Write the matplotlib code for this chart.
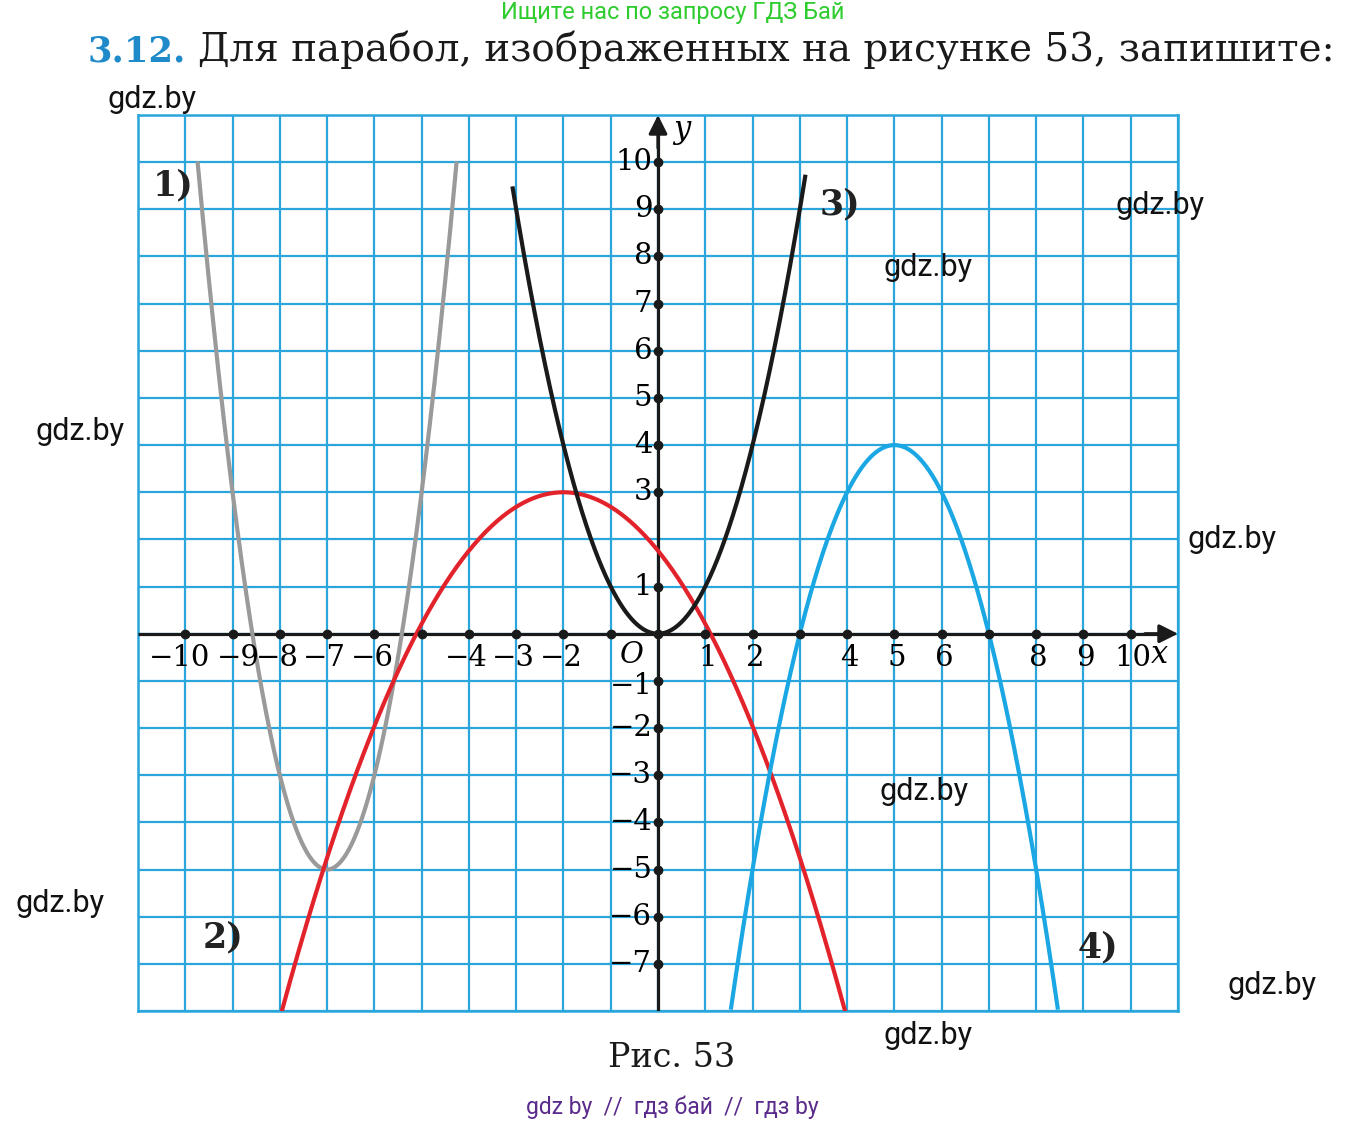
import numpy as np
import matplotlib
matplotlib.use("Agg")
import matplotlib.pyplot as plt

# ---------------- data ----------------
# parabolas y = a*(x - h)^2 + k
curve_names = ["1)", "2)", "3)", "4)"]
curve_a = [2.0, -0.31, 1.0, -1.0]
curve_h = [-7.0, -2.0, 0.0, 5.0]
curve_k = [-5.0, 3.0, 0.0, 4.0]
curve_xmin = [-9.74, -7.96, -3.08, 1.54]
curve_xmax = [-4.26, 3.96, 3.12, 8.46]
curve_colors = ["#9a9a9a", "#e3232b", "#1a1a1a", "#1aa7e4"]
label_pos = [(-10.25, 9.5), (-9.2, -6.45), (3.85, 9.1), (9.3, -6.65)]

x_tick_vals = [-10, -9, -8, -7, -6, -4, -3, -2, 1, 2, 4, 5, 6, 8, 9, 10]
y_tick_vals = [10, 9, 8, 7, 6, 5, 4, 3, 1, -1, -2, -3, -4, -5, -6, -7]
x_dot_vals = [v for v in range(-10, 11) if v != 0]
y_dot_vals = [v for v in range(-7, 11) if v not in (0, 2)]

watermarks = [(152, 100), (1160, 205), (928, 268), (80, 432), (1232, 540),
              (924, 792), (60, 904), (1272, 985), (928, 1036)]

W, H = 1349, 1124
fig = plt.figure(figsize=(W / 100, H / 100), dpi=100)

# axes placement (pixel box of the grid)
L, R, T, B = 138, 1178, 115, 1011
ax = fig.add_axes([L / W, 1 - B / H, (R - L) / W, (B - T) / H])
ax.set_xlim(-11, 11)
ax.set_ylim(-8, 11)

grid_c = "#2aa6dc"
for v in range(-11, 12):
    ax.axvline(v, color=grid_c, lw=1.6, zorder=1)
for v in range(-8, 12):
    ax.axhline(v, color=grid_c, lw=1.6, zorder=1)
for s in ax.spines.values():
    s.set_color(grid_c)
    s.set_linewidth(1.8)
ax.set_xticks([])
ax.set_yticks([])

# coordinate axes
ax.plot([-11, 10.6], [0, 0], color="#1a1a1a", lw=2.3, zorder=3, solid_capstyle="butt")
ax.plot([0, 0], [-8, 10.6], color="#1a1a1a", lw=2.3, zorder=3, solid_capstyle="butt")
ax.annotate("", xy=(11, 0), xytext=(10.3, 0),
            arrowprops=dict(arrowstyle="-|>", color="#1a1a1a", lw=2.3,
                            mutation_scale=28, shrinkA=0, shrinkB=0), zorder=4)
ax.annotate("", xy=(0, 11), xytext=(0, 10.3),
            arrowprops=dict(arrowstyle="-|>", color="#1a1a1a", lw=2.3,
                            mutation_scale=28, shrinkA=0, shrinkB=0), zorder=4)

ax.plot(x_dot_vals, [0] * len(x_dot_vals), "o", color="#1a1a1a", ms=6, zorder=6)
ax.plot([0] * len(y_dot_vals), y_dot_vals, "o", color="#1a1a1a", ms=6, zorder=6)
ax.plot([0], [0], "o", color="#1a1a1a", ms=6, zorder=6)

# curves
for a, h, k, x0, x1, c in zip(curve_a, curve_h, curve_k, curve_xmin, curve_xmax, curve_colors):
    xs = np.linspace(x0, x1, 400)
    ys = a * (xs - h) ** 2 + k
    ax.plot(xs, ys, color=c, lw=3.0, zorder=5, solid_capstyle="butt")

serif = "DejaVu Serif"
for name, (lx, ly) in zip(curve_names, label_pos):
    ax.text(lx, ly, name, fontsize=25, family=serif, weight="bold",
            color="#222222", ha="center", va="center", zorder=7)

# tick labels
x_label_shift = {-10: -0.12, -9: 0.12}
for v in x_tick_vals:
    lab = str(v).replace("-", "\u2212")
    dx = x_label_shift.get(v, -0.05 if v < 0 else 0.05)
    ax.text(v + dx, -0.52, lab, fontsize=21, family=serif,
            ha="center", va="center", zorder=7)
for v in y_tick_vals:
    lab = str(v).replace("-", "\u2212")
    yy = v - 0.1 if v == -1 else v
    ax.text(-0.12, yy, lab, fontsize=21, family=serif, ha="right", va="center", zorder=7)
ax.text(-0.55, -0.45, "O", fontsize=21, family=serif, style="italic", ha="center", va="center", zorder=7)
ax.text(10.6, -0.45, "x", fontsize=22, family=serif, style="italic", ha="center", va="center", zorder=7)
ax.text(0.5, 10.7, "y", fontsize=22, family=serif, style="italic", ha="center", va="center", zorder=7)

# header texts
fig.text(673 / W, 1 - 13 / H, "Ищите нас по запросу ГДЗ Бай", fontsize=17,
         family="Roboto", color="#2ecc2e", ha="center", va="center")
fig.text(88 / W, 1 - 62 / H, "3.12.", fontsize=25.5, family=serif, weight="bold",
         color="#1f8ac9", ha="left", va="baseline")
fig.text(198 / W, 1 - 62 / H, "Для парабол, изображенных на рисунке 53, запишите:",
         fontsize=28, family=serif, color="#1a1a1a", ha="left", va="baseline")

for (px, py) in watermarks:
    fig.text(px / W, 1 - py / H, "gdz.by", fontsize=22, family="Roboto",
             color="#111111", ha="center", va="center")

fig.text(672 / W, 1 - 1058 / H, "Рис. 53", fontsize=24, family=serif,
         color="#1a1a1a", ha="center", va="center")
fig.text(672 / W, 1 - 1107 / H, "gdz by  //  гдз бай  //  гдз by", fontsize=16.5,
         family="Roboto", color="#5a2a8c", ha="center", va="center")

fig.savefig("out.png", dpi=100, facecolor="white")
